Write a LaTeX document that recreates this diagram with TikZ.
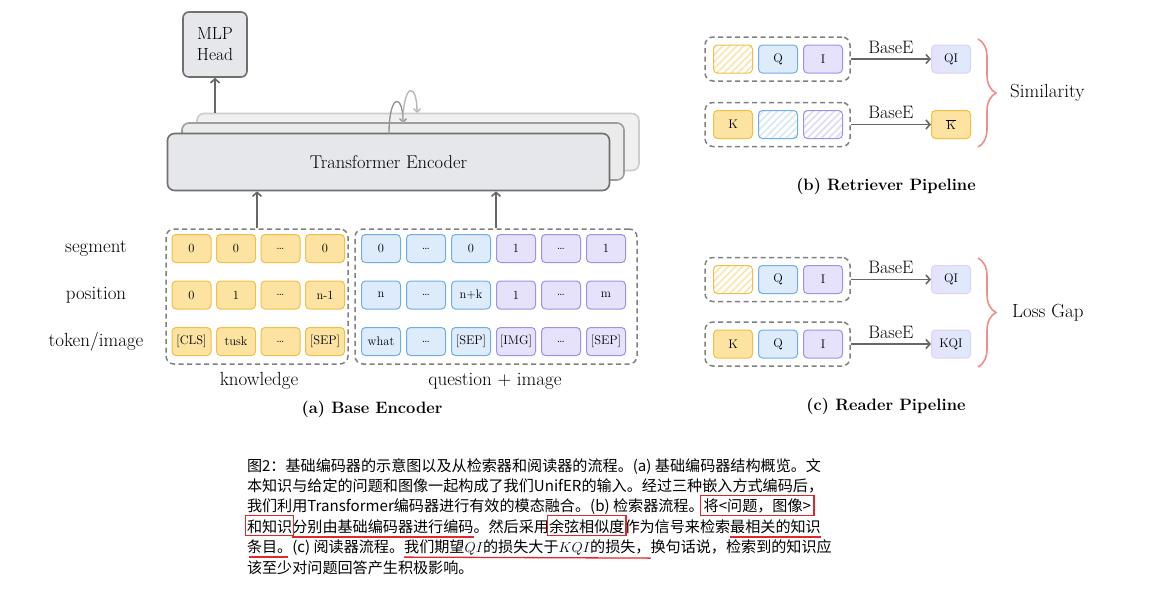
\documentclass[tikz,border=0pt]{standalone}
\usepackage{fontspec}
\newfontfamily\cjk{Noto Sans CJK SC}
\usetikzlibrary{arrows.meta,patterns.meta,decorations.pathreplacing,calc}
\definecolor{yfill}{HTML}{FCE3A1}
\definecolor{ydraw}{HTML}{F3BE45}
\definecolor{bfill}{HTML}{DDEBFB}
\definecolor{bdraw}{HTML}{70AEEB}
\definecolor{pfill}{HTML}{E6E2FB}
\definecolor{pdraw}{HTML}{9F90E8}
\definecolor{yhatch}{HTML}{FBE5AE}
\definecolor{bhatch}{HTML}{D6E7FA}
\definecolor{phatch}{HTML}{DED9FA}
\definecolor{gfill}{HTML}{E6E7EB}
\definecolor{gdraw}{HTML}{6F6F6F}
\definecolor{arrgray}{HTML}{676767}
\definecolor{dashgray}{HTML}{808080}
\definecolor{bracecol}{HTML}{F28B8B}
\definecolor{capred}{HTML}{E3262B}
\newcommand\capf{\cjk\fontsize{15.1}{18}\selectfont}
\begin{document}
\begin{tikzpicture}[x=1pt,y=-1pt,
  tok/.style={rounded corners=4pt, line width=1pt, minimum width=39pt, minimum height=28pt, inner sep=0pt, font=\fontsize{12.5}{14}\selectfont},
  ytok/.style={tok, draw=ydraw, fill=yfill},
  btok/.style={tok, draw=bdraw, fill=bfill},
  ptok/.style={tok, draw=pdraw, fill=pfill},
  yhat/.style={tok, draw=ydraw, pattern={Lines[angle=45,distance=5pt,line width=1.6pt]}, pattern color=yhatch},
  bhat/.style={tok, draw=bdraw, pattern={Lines[angle=45,distance=5pt,line width=1.6pt]}, pattern color=bhatch},
  phat/.style={tok, draw=pdraw, pattern={Lines[angle=45,distance=5pt,line width=1.6pt]}, pattern color=phatch},
  gradtok/.style={tok, draw=pdraw!40, left color=pfill, right color=bfill},
  encbox/.style={rounded corners=7pt, line width=1.6pt, minimum width=442pt, minimum height=57pt, inner sep=0pt},
  dashbox/.style={draw=dashgray, dash pattern=on 5pt off 3.5pt, line width=1.5pt, rounded corners=8pt, inner sep=0pt},
  arr/.style={draw=arrgray, line width=1.6pt, -{Straight Barb[length=4pt,width=9pt,line width=1.6pt]}},
  lbl/.style={font=\fontsize{19}{22}\selectfont, inner sep=0pt},
  ttl/.style={font=\fontsize{16.5}{19}\selectfont\bfseries, inner sep=0pt},
  seg/.style={anchor=base west, inner sep=0pt, outer sep=0pt, font=\capf},
  redbox/.style={draw=capred, line width=1.2pt},
  redline/.style={draw=capred, line width=2.2pt},
  brc/.style={draw=bracecol, line width=1.6pt, decorate, decoration={brace, amplitude=18pt, aspect=0.5}},
]
\useasboundingbox (0,0) rectangle (1150,606);

% ---------- (a) Base Encoder ----------
\node[encbox, draw=black!20, fill=black!6] (enc3) at (418,142) {};
\node[encbox, draw=black!38, fill=black!8] (enc2) at (403,151.5) {};
\node[encbox, draw=gdraw, fill=gfill, font=\fontsize{18.5}{21}\selectfont] (enc1) at (388.5,162) {Transformer Encoder};

\node[draw=gdraw, fill=gfill, line width=1.6pt, rounded corners=6pt, minimum width=64pt, minimum height=65pt, inner sep=0pt, align=center, font=\fontsize{17.5}{21}\selectfont] (mlp) at (215,44.5) {MLP\\Head};
\draw[arr] (mlp.south |- enc3.north) -- (mlp.south);

\coordinate (l1a) at (389,134);
\coordinate (l1b) at (403,123);
\coordinate (l2b) at (417,113);
\draw[draw=black!42, line width=1.4pt, -{Straight Barb[length=3.5pt,width=7pt,line width=1.4pt]}] (l1a) .. controls (389,93) and (403,93) .. (l1b);
\draw[draw=black!28, line width=1.4pt, -{Straight Barb[length=3.5pt,width=7pt,line width=1.4pt]}] (l1b) .. controls (403,82) and (417,82) .. (l2b);

\node[dashbox, minimum width=182pt, minimum height=135pt] (kdash) at (257,296.5) {};
\node[dashbox, minimum width=282pt, minimum height=135pt] (qdash) at (496,296.5) {};
\draw[arr] (kdash.north) -- (kdash.north |- enc1.south);
\draw[arr] (qdash.north) -- (qdash.north |- enc1.south);

\node[lbl] (lseg) at (96,249) {segment};
\node[lbl] (lpos) at (96,295) {position};
\node[lbl] (ltok) at (96,342) {token/image};

\foreach \t [count=\i] in {0,0,\ldots,0}
  \node[ytok] (ks\i) at ({191.5+44.5*(\i-1)},248.5) {\t};
\foreach \t [count=\i] in {0,1,\ldots,n-1}
  \node[ytok] (kp\i) at ({191.5+44.5*(\i-1)},295) {\t};
\foreach \t [count=\i] in {[CLS],tusk,\ldots,[SEP]}
  \node[ytok] (kt\i) at ({191.5+44.5*(\i-1)},341.5) {\t};

\foreach \t [count=\i] in {0,\ldots,0}
  \node[btok] (qs\i) at ({381+45*(\i-1)},248.5) {\t};
\foreach \t [count=\i from 4] in {1,\ldots,1}
  \node[ptok] (qs\i) at ({381+45*(\i-1)},248.5) {\t};
\foreach \t [count=\i] in {n,\ldots,n+k}
  \node[btok] (qp\i) at ({381+45*(\i-1)},295) {\t};
\foreach \t [count=\i from 4] in {1,\ldots,m}
  \node[ptok] (qp\i) at ({381+45*(\i-1)},295) {\t};
\foreach \t [count=\i] in {what,\ldots,[SEP]}
  \node[btok] (qt\i) at ({381+45*(\i-1)},341.5) {\t};
\foreach \t [count=\i from 4] in {[IMG],\ldots,[SEP]}
  \node[ptok] (qt\i) at ({381+45*(\i-1)},341.5) {\t};

\node[lbl] (lknow) at (259,381) {knowledge};
\node[lbl] (lqi) at (495,381) {question + image};
\node[ttl] (ta) at (372,409) {(a) Base Encoder};

% ---------- (b) Retriever Pipeline ----------
\node[dashbox, minimum width=145pt, minimum height=44pt] (bd1) at (777.5,59) {};
\node[yhat] (b1k) at (733,59) {};
\node[btok] (b1q) at (778,59) {Q};
\node[ptok] (b1i) at (823,59) {I};
\node[gradtok] (b1o) at (951,59) {QI};
\draw[arr] (bd1.east) -- (b1o.west) node[midway, above=5pt, lbl, font=\fontsize{18}{20}\selectfont] (b1l) {BaseE};

\node[dashbox, minimum width=145pt, minimum height=44pt] (bd2) at (777.5,124.5) {};
\node[ytok] (b2k) at (733,124.5) {K};
\node[bhat] (b2q) at (778,124.5) {};
\node[phat] (b2i) at (823,124.5) {};
\node[ytok] (b2o) at (951,124.5) {$\overline{\mathrm{K}}$};
\draw[arr] (bd2.east) -- (b2o.west) node[midway, above=5pt, lbl, font=\fontsize{18}{20}\selectfont] (b2l) {BaseE};

\coordinate (bbt) at (978,39);
\coordinate (bbb) at (978,147);
\draw[brc] (bbt) -- (bbb);
\node[lbl, anchor=west] (bsim) at (1010,93) {Similarity};
\node[ttl] (tb) at (886,186) {(b) Retriever Pipeline};

% ---------- (c) Reader Pipeline ----------
\node[dashbox, minimum width=145pt, minimum height=44pt] (cd1) at (777.5,279.5) {};
\node[yhat] (c1k) at (733,279.5) {};
\node[btok] (c1q) at (778,279.5) {Q};
\node[ptok] (c1i) at (823,279.5) {I};
\node[gradtok] (c1o) at (951,279.5) {QI};
\draw[arr] (cd1.east) -- (c1o.west) node[midway, above=5pt, lbl, font=\fontsize{18}{20}\selectfont] (c1l) {BaseE};

\node[dashbox, minimum width=145pt, minimum height=44pt] (cd2) at (777.5,344) {};
\node[ytok] (c2k) at (733,344) {K};
\node[btok] (c2q) at (778,344) {Q};
\node[ptok] (c2i) at (823,344) {I};
\node[gradtok] (c2o) at (951,344) {KQI};
\draw[arr] (cd2.east) -- (c2o.west) node[midway, above=5pt, lbl, font=\fontsize{18}{20}\selectfont] (c2l) {BaseE};

\coordinate (cbt) at (978,258);
\coordinate (cbb) at (978,367);
\draw[brc] (cbt) -- (cbb);
\node[lbl, anchor=west] (closs) at (1012,313) {Loss Gap};
\node[ttl] (tc) at (886,406) {(c) Reader Pipeline};

% ---------- caption ----------
\node[seg] (L1) at (247,471) {图2：基础编码器的示意图以及从检索器和阅读器的流程。(a) 基础编码器结构概览。文};
\node[seg] (L2) at (247,491.4) {本知识与给定的问题和图像一起构成了我们UnifER的输入。经过三种嵌入方式编码后，};
\node[seg] (L3a) at (247,511.8) {我们利用Transformer编码器进行有效的模态融合。(b) 检索器流程。};
\node[seg] (L3b) at (L3a.base east) {将<问题，图像>};
\node[seg] (L4a) at (247,532.2) {和知识};
\node[seg] (L4b) at (L4a.base east) {分别由基础编码器进行编码};
\node[seg] (L4c) at (L4b.base east) {。然后采用};
\node[seg] (L4d) at (L4c.base east) {余弦相似度};
\node[seg] (L4e) at (L4d.base east) {作为信号来检索};
\node[seg] (L4f) at (L4e.base east) {最相关的知识};
\node[seg] (L5a) at (247,552.6) {条目。};
\node[seg] (L5b) at (L5a.base east) {(c) 阅读器流程。};
\node[seg] (L5c) at (L5b.base east) {我们期望$QI$的损失大于$KQI$的损失，};
\node[seg] (L5d) at (L5c.base east) {换句话说，检索到的知识应};
\node[seg] (L6) at (247,573) {该至少对问题回答产生积极影响。};

\draw[redbox] ($(L3b.base west)+(-3,-16.5)$) rectangle ($(L3b.base east)+(3,3.5)$);
\draw[redbox] ($(L4a.base west)+(-1.5,-16.5)$) rectangle ($(L4a.base east)+(1.5,3.5)$);
\draw[redbox] ($(L4d.base west)+(-1.5,-16.5)$) rectangle ($(L4d.base east)+(1.5,3.5)$);
\draw[redline] ($(L4b.base west)+(0,4.5)$) -- ($(L4b.base east)+(0,4.5)$);
\draw[redline] ($(L4f.base west)+(0,4.5)$) -- ($(L4f.base east)+(0,4.5)$);
\draw[redline] ($(L5a.base west)+(2,4.5)$) -- ($(L5a.base east)+(-4,4.5)$);
\draw[draw=capred, line width=1.3pt] ($(L5c.base west)+(0,4.5)$) -- ($(L5c.base east)+(0,5.5)$);
\end{tikzpicture}
\end{document}
